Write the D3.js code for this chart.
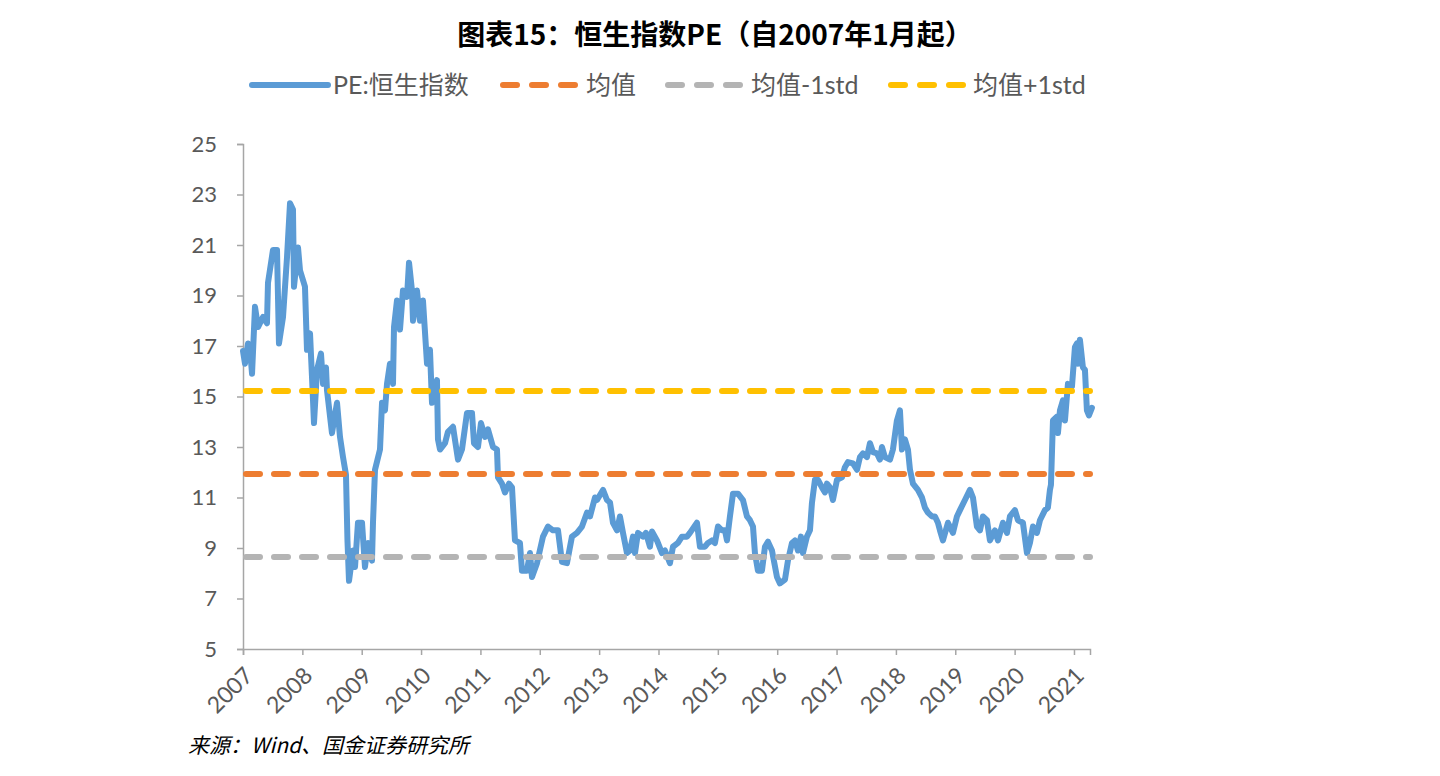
<!DOCTYPE html>
<html><head><meta charset="utf-8">
<script src="https://cdn.jsdelivr.net/npm/d3@7"></script>
<style>
html,body{margin:0;padding:0;background:#fff;}
svg{display:block;}
</style></head>
<body>
<svg id="c" width="1440" height="776"></svg>
<script>
// ---- data ----
const title = "图表15：恒生指数PE（自2007年1月起）";
const source = "来源：Wind、国金证券研究所";
const seriesNames = ["PE:恒生指数", "均值", "均值-1std", "均值+1std"];
const xTickYears = [2007,2008,2009,2010,2011,2012,2013,2014,2015,2016,2017,2018,2019,2020,2021];
const yTicks = [5,7,9,11,13,15,17,19,21,23,25];
const meanPE = 11.93;
const minusStd = 8.64;
const plusStd = 15.22;
// dates as decimal years
const dates = [
2007.000,2007.034,2007.084,2007.118,2007.152,2007.202,2007.253,2007.337,2007.404,2007.421,
2007.505,2007.573,2007.606,2007.674,2007.741,2007.792,2007.842,2007.859,2007.927,2007.960,
2008.044,2008.078,2008.129,2008.162,2008.196,2008.247,2008.314,2008.348,2008.398,2008.415,
2008.499,2008.584,2008.634,2008.685,2008.735,2008.760,2008.786,2008.853,2008.887,2008.937,
2009.005,2009.055,2009.106,2009.173,2009.190,2009.224,2009.308,2009.342,2009.392,2009.426,
2009.476,2009.527,2009.544,2009.594,2009.645,2009.695,2009.763,2009.797,2009.847,2009.864,
2009.931,2009.982,2010.032,2010.100,2010.150,2010.184,2010.268,2010.285,2010.319,2010.403,
2010.453,2010.538,2010.622,2010.689,2010.774,2010.858,2010.892,2010.959,2011.009,2011.077,
2011.127,2011.212,2011.279,2011.296,2011.363,2011.414,2011.481,2011.532,2011.582,2011.666,
2011.700,2011.784,2011.835,2011.869,2011.953,2012.054,2012.138,2012.222,2012.307,2012.374,
2012.458,2012.542,2012.627,2012.711,2012.795,2012.846,2012.930,2012.964,2013.065,2013.132,
2013.183,2013.233,2013.301,2013.351,2013.402,2013.469,2013.520,2013.570,2013.604,2013.654,
2013.739,2013.789,2013.856,2013.890,2013.974,2014.059,2014.109,2014.193,2014.244,2014.328,
2014.396,2014.480,2014.530,2014.648,2014.699,2014.783,2014.834,2014.901,2014.951,2015.002,
2015.069,2015.120,2015.154,2015.204,2015.255,2015.339,2015.423,2015.491,2015.541,2015.592,
2015.625,2015.676,2015.743,2015.794,2015.844,2015.912,2015.996,2016.046,2016.131,2016.181,
2016.249,2016.299,2016.350,2016.400,2016.434,2016.501,2016.552,2016.586,2016.636,2016.687,
2016.754,2016.805,2016.838,2016.889,2016.939,2017.007,2017.091,2017.141,2017.192,2017.276,
2017.344,2017.394,2017.445,2017.512,2017.563,2017.613,2017.680,2017.731,2017.765,2017.815,
2017.900,2017.950,2018.017,2018.068,2018.102,2018.152,2018.203,2018.237,2018.287,2018.371,
2018.439,2018.489,2018.540,2018.607,2018.658,2018.708,2018.742,2018.792,2018.877,2018.961,
2019.028,2019.079,2019.163,2019.247,2019.298,2019.365,2019.416,2019.466,2019.534,2019.584,
2019.668,2019.719,2019.803,2019.871,2019.921,2020.005,2020.056,2020.140,2020.208,2020.258,
2020.309,2020.376,2020.427,2020.511,2020.561,2020.595,2020.612,2020.646,2020.713,2020.730,
2020.764,2020.814,2020.848,2020.898,2020.966,2021.016,2021.050,2021.067,2021.100,2021.151,
2021.185,2021.218,2021.252,2021.302
];
const pe = [
16.8,16.3,17.1,16.9,15.9,18.55,17.75,18.15,17.9,19.5,
20.8,20.8,17.1,18.15,20.5,22.65,22.4,19.35,20.9,20.0,
19.35,16.85,17.5,15.8,13.95,16.05,16.7,15.5,16.15,15.25,
13.55,14.75,13.4,12.6,11.9,9.3,7.7,8.9,8.25,10.0,
10.0,8.25,9.2,8.5,10.0,12.1,12.9,14.75,14.45,15.5,
16.3,15.5,17.75,18.8,17.65,19.2,18.95,20.3,19.2,18.0,
19.2,18.0,18.8,16.3,16.85,14.75,15.65,13.3,12.9,13.15,
13.6,13.8,12.5,12.9,14.35,14.35,13.15,13.0,13.95,13.4,
13.7,13.0,12.9,11.8,11.55,11.2,11.55,11.4,9.3,9.2,
8.1,8.1,8.8,7.85,8.4,9.45,9.85,9.7,9.7,8.45,
8.4,9.45,9.6,9.85,10.4,10.25,11.0,10.9,11.3,10.9,
10.8,10.0,9.7,10.25,9.6,8.8,8.9,9.45,8.8,9.6,
9.45,9.6,9.05,9.65,9.3,8.8,8.9,8.4,9.05,9.2,
9.45,9.45,9.6,10.0,9.05,9.05,9.2,9.3,9.2,9.85,
9.7,9.7,9.3,10.25,11.15,11.15,10.9,10.25,10.1,9.85,
8.8,8.1,8.1,9.05,9.25,8.9,7.85,7.6,7.75,8.5,
9.2,9.3,8.9,9.45,8.8,9.45,9.7,10.8,11.7,11.7,
11.4,11.2,11.55,11.4,10.9,11.7,11.8,12.2,12.4,12.35,
12.1,12.6,12.75,12.6,13.15,12.8,12.75,12.5,13.0,12.6,
12.5,12.9,14.05,14.45,12.9,13.3,12.9,12.1,11.55,11.3,
11.0,10.6,10.4,10.25,10.25,10.0,9.7,9.3,10.0,9.6,
10.25,10.5,10.9,11.3,11.0,9.85,9.7,10.25,10.1,9.3,
9.7,9.3,10.0,9.6,10.25,10.5,10.1,10.0,8.8,9.2,
9.85,9.6,10.1,10.5,10.6,11.3,11.5,14.05,14.2,13.55,
14.45,14.85,14.05,15.5,15.4,16.95,17.1,16.3,17.25,16.15,
16.05,14.45,14.25,14.55
];

// ---- chart ----
const svg = d3.select("#c");
const x = d3.scaleLinear().domain([2007, 2021.27]).range([243, 1090]);
const y = d3.scaleLinear().domain([5, 25]).range([649, 144]);
const axisColor = "#A6A6A6";
const textColor = "#595959";
const latin = "Lato, 'Noto Sans CJK SC', sans-serif";
const colors = ["#5B9BD5", "#ED7D31", "#B4B4B4", "#FFC000"];

// title
svg.append("text").attr("x", 715).attr("y", 45).attr("text-anchor", "middle")
  .attr("font-family", "'Noto Sans CJK SC', sans-serif").attr("font-weight", "bold")
  .attr("font-size", 28).attr("fill", "#000").text(title);

// y axis
const yAxis = svg.append("g").attr("transform", "translate(243,0)")
  .call(d3.axisLeft(y).tickValues(yTicks).tickSize(6).tickPadding(20).tickFormat(d3.format("d")));
yAxis.select(".domain").attr("stroke", axisColor).attr("stroke-width", 1.5);
yAxis.selectAll(".tick line").attr("stroke", axisColor).attr("stroke-width", 1.5);
yAxis.selectAll(".tick text").attr("fill", textColor).attr("font-size", 22).attr("font-family", latin);

// x axis
const xAxis = svg.append("g").attr("transform", "translate(0,649)")
  .call(d3.axisBottom(x).tickValues(xTickYears).tickSize(6).tickFormat(d3.format("d")));
xAxis.select(".domain").attr("stroke", axisColor).attr("stroke-width", 1.5);
xAxis.selectAll(".tick line").attr("stroke", axisColor).attr("stroke-width", 1.5);
xAxis.selectAll(".tick text").attr("fill", textColor).attr("font-size", 23).attr("font-family", latin)
  .attr("text-anchor", "end").attr("dy", null).attr("y", 0)
  .attr("transform", "translate(11,28) rotate(-45)");

// PE line
const line = d3.line().x((d, i) => x(dates[i])).y(d => y(d)).curve(d3.curveLinear);
svg.append("path").datum(pe).attr("d", line).attr("fill", "none")
  .attr("stroke", colors[0]).attr("stroke-width", 6)
  .attr("stroke-linejoin", "round").attr("stroke-linecap", "round");

// reference lines
const refVals = [meanPE, minusStd, plusStd];
refVals.forEach((v, i) => {
  svg.append("line").attr("x1", x(2007) + 3).attr("x2", x(2021.27)).attr("y1", y(v)).attr("y2", y(v))
    .attr("stroke", colors[i + 1]).attr("stroke-width", 6).attr("stroke-linecap", "round")
    .attr("stroke-dasharray", "14,14");
});

// legend
const legendItems = [
  {sx: 252, ex: 328, tx: 333, dash: null},
  {sx: 503, ex: 577, tx: 586, dash: "14,15"},
  {sx: 668, ex: 742, tx: 751, dash: "14,15"},
  {sx: 891, ex: 965, tx: 973, dash: "14,15"}
];
const ly = 85;
legendItems.forEach((it, i) => {
  const l = svg.append("line").attr("x1", it.sx).attr("x2", it.ex).attr("y1", ly).attr("y2", ly)
    .attr("stroke", colors[i]).attr("stroke-width", 6).attr("stroke-linecap", "round");
  if (it.dash) l.attr("stroke-dasharray", it.dash);
  svg.append("text").attr("x", it.tx).attr("y", ly + 9).attr("font-size", 25)
    .attr("font-family", latin).attr("fill", textColor).text(seriesNames[i]);
});

// source
svg.append("text").attr("x", 188).attr("y", 753).attr("font-size", 21)
  .attr("font-style", "italic").attr("font-family", "'Noto Sans CJK SC', sans-serif")
  .attr("fill", "#000").text(source);
</script>
</body></html>
